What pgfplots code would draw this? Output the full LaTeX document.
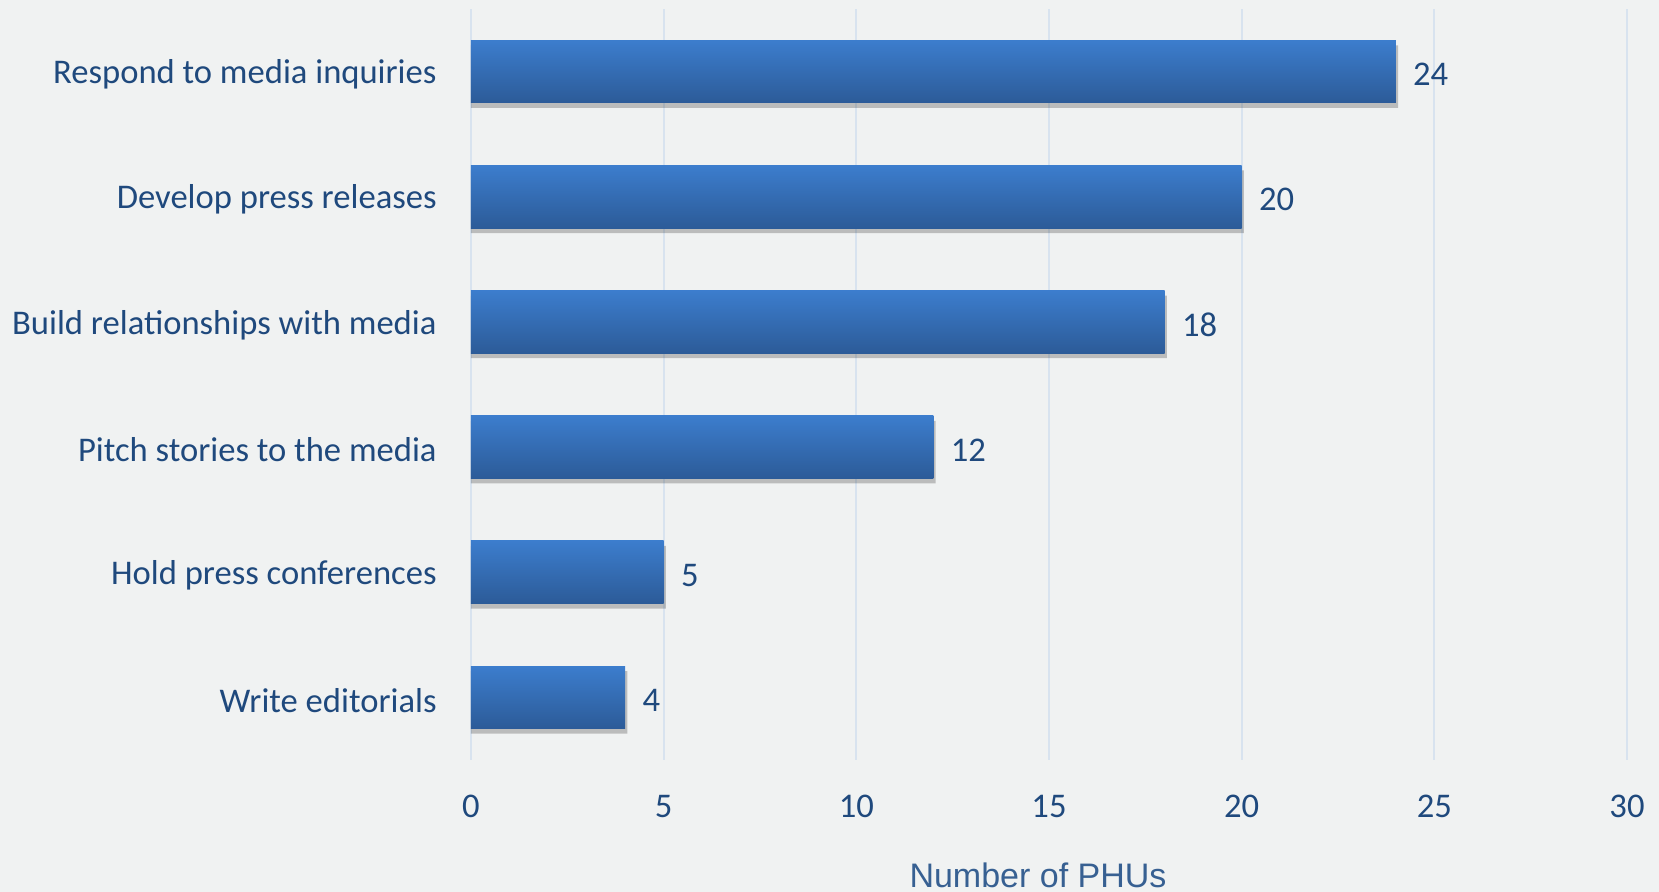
\documentclass[border=0pt]{standalone}
\usepackage{pgfplots}
\pgfplotsset{compat=1.18}
\usepackage{fontspec}
\setmainfont{Carlito}
\newfontfamily\arialfont{Liberation Sans}
\definecolor{bgc}{HTML}{F0F2F2}
\definecolor{txt}{HTML}{1F497D}
\definecolor{ttl}{HTML}{376092}
\definecolor{gridc}{HTML}{D8E3EF}
\definecolor{barTop}{HTML}{3C7DCD}
\definecolor{barBot}{HTML}{2C5B98}
\begin{document}
\begin{tikzpicture}
\path[use as bounding box, fill=bgc] (-235.5pt,-66pt) rectangle (594pt,380pt);
\begin{axis}[
  at={(0,0)}, anchor=south west,
  scale only axis, width=578pt, height=375.5pt,
  xmin=0, xmax=30, ymin=-0.5, ymax=5.5,
  xtick={0,5,...,30},
  ytick={0,1,2,3,4,5},
  yticklabels={Write editorials, Hold press conferences, Pitch stories to the media, Build relationships with media, Develop press releases, Respond to media inquiries},
  /pgf/number format/assume math mode=true,
  axis line style={draw=none},
  major tick length=0pt,
  xmajorgrids, ymajorgrids=false,
  grid style={gridc, line width=1pt},
  tick label style={font=\fontsize{17.3}{20}\selectfont, text=txt, inner sep=0pt},
  yticklabel style={anchor=east, xshift=-17pt, yshift=-1.5pt},
  xticklabel style={anchor=base, yshift=-29pt},
  xlabel={Number of PHUs},
  xlabel style={font=\arialfont\fontsize{17}{20}\selectfont, text=ttl, inner sep=0pt, at={(axis description cs:0.4905,0)}, anchor=base, yshift=-64pt},
  clip=false,
  shadowbar/.style={xbar, bar width=0.5, bar shift=-0.04, fill=black, opacity=0.22, draw=none, forget plot},
  mainbar/.style={xbar, bar width=0.5, bar shift=0, draw=none, shading=axis, top color=barTop, bottom color=barBot, forget plot,
    nodes near coords, nodes near coords style={font=\fontsize{17.3}{20}\selectfont, text=txt, anchor=west, inner sep=0pt, xshift=8.5pt, yshift=-1.5pt}},
]
% shadows
\addplot[shadowbar] coordinates {(24.06,5) (20.06,4) (18.06,3) (12.06,2) (5.06,1) (4.06,0)};
% bars, one plot each so each bar gets its own gradient
\addplot[mainbar] coordinates {(24,5)};
\addplot[mainbar] coordinates {(20,4)};
\addplot[mainbar] coordinates {(18,3)};
\addplot[mainbar] coordinates {(12,2)};
\addplot[mainbar] coordinates {(5,1)};
\addplot[mainbar] coordinates {(4,0)};
\end{axis}
\end{tikzpicture}
\end{document}
